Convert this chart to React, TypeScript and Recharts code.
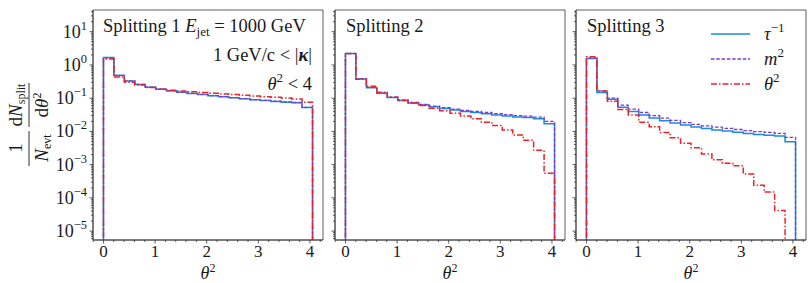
import React from 'react';
import { LineChart, Line, XAxis, YAxis, ReferenceArea } from 'recharts';

// bin edges of the theta^2 histograms (20 bins)
const binEdges = [
  0, 0.2025, 0.405, 0.6075, 0.81, 1.0125, 1.215, 1.4175, 1.62, 1.8225, 2.025,
  2.2275, 2.43, 2.6325, 2.835, 3.0375, 3.24, 3.4425, 3.645, 3.8475, 4.05,
];

// Splitting 1
const split1Tau = [1.68, 0.49, 0.33, 0.26, 0.215, 0.186, 0.166, 0.151, 0.138, 0.129, 0.118, 0.11, 0.103, 0.096, 0.09, 0.085, 0.08, 0.076, 0.073, 0.052];
const split1Mass = [1.64, 0.48, 0.33, 0.26, 0.215, 0.187, 0.167, 0.152, 0.139, 0.13, 0.119, 0.111, 0.104, 0.097, 0.091, 0.086, 0.081, 0.077, 0.074, 0.053];
const split1Theta = [1.5, 0.43, 0.3, 0.247, 0.21, 0.186, 0.174, 0.163, 0.155, 0.148, 0.141, 0.134, 0.128, 0.122, 0.116, 0.111, 0.106, 0.101, 0.095, 0.076];

// Splitting 2
const split2Tau = [2.2, 0.38, 0.205, 0.14, 0.105, 0.085, 0.071, 0.062, 0.055, 0.049, 0.044, 0.04, 0.037, 0.034, 0.031, 0.029, 0.027, 0.026, 0.024, 0.017];
const split2Mass = [2.2, 0.39, 0.21, 0.145, 0.108, 0.088, 0.074, 0.065, 0.058, 0.052, 0.047, 0.043, 0.04, 0.037, 0.034, 0.032, 0.03, 0.029, 0.027, 0.02];
const split2Theta = [2.2, 0.37, 0.23, 0.15, 0.107, 0.085, 0.072, 0.06, 0.05, 0.042, 0.035, 0.029, 0.024, 0.019, 0.015, 0.011, 0.0078, 0.0054, 0.0027, 0.00055];

// Splitting 3
const split3Tau = [1.57, 0.148, 0.093, 0.053, 0.04, 0.031, 0.0255, 0.021, 0.018, 0.0155, 0.0135, 0.0122, 0.0111, 0.0102, 0.0094, 0.0087, 0.0081, 0.0077, 0.0073, 0.0049];
const split3Mass = [1.6, 0.165, 0.1, 0.062, 0.047, 0.037, 0.03, 0.025, 0.0215, 0.0185, 0.0162, 0.0147, 0.0134, 0.0124, 0.0114, 0.0106, 0.0099, 0.0093, 0.0087, 0.0066];
const split3Theta = [1.77, 0.165, 0.081, 0.046, 0.031, 0.019, 0.0138, 0.0093, 0.0064, 0.0044, 0.0032, 0.0021, 0.0014, 0.0011, 0.00092, 0.00052, 0.00024, 0.00015, 0.000042, 0];

const xTicks = [0, 1, 2, 3, 4];
const xMinorTicks = [-0.2, 0.2, 0.4, 0.6, 0.8, 1.2, 1.4, 1.6, 1.8, 2.2, 2.4, 2.6, 2.8, 3.2, 3.4, 3.6, 3.8, 4.2];
const yTicks = [1e-5, 1e-4, 1e-3, 1e-2, 1e-1, 1, 10];
const yTickExponents = ['−5', '−4', '−3', '−2', '−1', '0', '1'];
const yMinorMultipliers = [2, 3, 4, 5, 6, 7, 8, 9];
const yDecades = [1e-6, 1e-5, 1e-4, 1e-3, 1e-2, 1e-1, 1, 10];

const X_DOMAIN: [number, number] = [-0.2025, 4.2525];
const Y_DOMAIN: [number, number] = [5.4e-6, 45];
const FLOOR = 1e-9;

const yMinorTicks = yDecades
  .flatMap((d) => yMinorMultipliers.map((m) => d * m))
  .filter((v) => v > Y_DOMAIN[0] && v < Y_DOMAIN[1]);
const yAllTicks = [...yMinorTicks, ...yTicks].sort((a, b) => a - b);
const xAllTicks = [...xMinorTicks, ...xTicks].sort((a, b) => a - b);

const FONT = '"Liberation Serif", "DejaVu Serif", serif';
const FRAME = '#333333';
const INK = '#1a1a1a';
const COLORS = { tau: '#1e88e5', mass: '#7a3fc9', theta: '#ec2228' };

// step outline: drop from the floor at the first edge, bin tops, drop at the last edge
function toSteps(values: number[]) {
  const pts = [{ x: binEdges[0], y: FLOOR }];
  values.forEach((v, i) => pts.push({ x: binEdges[i], y: v > 0 ? v : FLOOR }));
  const last = values[values.length - 1];
  pts.push({ x: binEdges[values.length], y: last > 0 ? last : FLOOR });
  pts.push({ x: binEdges[values.length], y: FLOOR });
  return pts;
}

function YTick(props: any) {
  const { x, y, payload, showLabel } = props;
  const idx = yTicks.indexOf(payload.value);
  const major = idx >= 0;
  const len = major ? 3.5 : 2;
  return (
    <g>
      <line x1={x - len} x2={x} y1={y} y2={y} stroke={FRAME} strokeWidth={0.8} />
      {major && showLabel && (
        <text x={x - 6} y={y + 6} textAnchor="end" fontFamily={FONT} fontSize={18} fill={INK}>
          10
          <tspan dy={-8} fontSize={12.5}>
            {yTickExponents[idx]}
          </tspan>
        </text>
      )}
    </g>
  );
}

function XTick(props: any) {
  const { x, y, payload } = props;
  const major = xTicks.includes(payload.value);
  const len = major ? 3.5 : 2;
  return (
    <g>
      <line x1={x} x2={x} y1={y} y2={y + len} stroke={FRAME} strokeWidth={0.8} />
      {major && (
        <text x={x} y={y + 17} textAnchor="middle" fontFamily={FONT} fontSize={17} fill={INK}>
          {payload.value}
        </text>
      )}
    </g>
  );
}

interface PanelProps {
  left: number;
  axisWidth: number;
  showLabels: boolean;
  tau: number[];
  mass: number[];
  theta: number[];
}

function Panel({ left, axisWidth, showLabels, tau, mass, theta }: PanelProps) {
  const plotWidth = 230;
  return (
    <div style={{ position: 'absolute', left, top: 0 }}>
      <LineChart
        width={axisWidth + plotWidth + 4}
        height={283}
        margin={{ top: 10, right: 4, bottom: 0, left: 0 }}
      >
        <XAxis
          dataKey="x"
          type="number"
          domain={X_DOMAIN}
          allowDataOverflow
          ticks={xAllTicks}
          interval={0}
          tickSize={0}
          tickMargin={0}
          tickLine={false}
          tick={<XTick />}
          height={43}
          axisLine={{ stroke: FRAME, strokeWidth: 0.8 }}
        />
        <YAxis
          type="number"
          scale="log"
          domain={Y_DOMAIN}
          allowDataOverflow
          ticks={yAllTicks}
          interval={0}
          tickSize={0}
          tickMargin={0}
          tickLine={false}
          tick={<YTick showLabel={showLabels} />}
          width={axisWidth}
          axisLine={{ stroke: FRAME, strokeWidth: 0.8 }}
        />
        <ReferenceArea
          x1={X_DOMAIN[0]}
          x2={X_DOMAIN[1]}
          y1={Y_DOMAIN[0]}
          y2={Y_DOMAIN[1]}
          fill="none"
          stroke={FRAME}
          strokeWidth={0.8}
        />
        <Line
          data={toSteps(tau)}
          dataKey="y"
          type="stepAfter"
          stroke={COLORS.tau}
          strokeWidth={1.5}
          dot={false}
          isAnimationActive={false}
        />
        <Line
          data={toSteps(mass)}
          dataKey="y"
          type="stepAfter"
          stroke={COLORS.mass}
          strokeWidth={1.3}
          strokeDasharray="3.5 1.8"
          dot={false}
          isAnimationActive={false}
        />
        <Line
          data={toSteps(theta)}
          dataKey="y"
          type="stepAfter"
          stroke={COLORS.theta}
          strokeWidth={1.5}
          strokeDasharray="6 2 1.5 2"
          dot={false}
          isAnimationActive={false}
        />
      </LineChart>
    </div>
  );
}

function Annotations() {
  const t = { fontFamily: FONT, fontSize: 18.5, fill: INK };
  const legend = [
    { key: 'tau', y: 34, dash: undefined, label: <><tspan fontStyle="italic">τ</tspan><tspan dy={-8} fontSize={13}>−1</tspan></> },
    { key: 'mass', y: 59, dash: '3.5 1.8', label: <><tspan fontStyle="italic">m</tspan><tspan dy={-8} fontSize={13}>2</tspan></> },
    { key: 'theta', y: 84, dash: '6 2 1.5 2', label: <><tspan fontStyle="italic">θ</tspan><tspan dy={-8} fontSize={13}>2</tspan></> },
  ];
  return (
    <svg width={810} height={283} style={{ position: 'absolute', left: 0, top: 0, pointerEvents: 'none' }}>
      <text x={103} y={32} {...t}>
        Splitting 1 <tspan fontStyle="italic">E</tspan>
        <tspan dy={4} fontSize={13}>jet</tspan>
        <tspan dy={-4}> = 1000 GeV</tspan>
      </text>
      <text x={312} y={61} textAnchor="end" {...t}>
        1 GeV/c &lt; |<tspan fontWeight="bold" fontStyle="italic">κ</tspan>|
      </text>
      <text x={312} y={90} textAnchor="end" {...t}>
        <tspan fontStyle="italic">θ</tspan>
        <tspan dy={-8} fontSize={13}>2</tspan>
        <tspan dy={8}> &lt; 4</tspan>
      </text>
      <text x={346} y={32} {...t}>Splitting 2</text>
      <text x={587} y={32} {...t}>Splitting 3</text>

      {[208, 450, 691].map((cx) => (
        <text key={cx} x={cx} y={279} textAnchor="middle" {...t} fontSize={18}>
          <tspan fontStyle="italic">θ</tspan>
          <tspan dy={-7} fontSize={12}>2</tspan>
        </text>
      ))}

      {legend.map((l) => (
        <g key={l.key}>
          <line
            x1={711}
            x2={750}
            y1={l.y}
            y2={l.y}
            stroke={COLORS[l.key as keyof typeof COLORS]}
            strokeWidth={1.5}
            strokeDasharray={l.dash}
          />
          <text x={764} y={l.y + 6} {...t}>
            {l.label}
          </text>
        </g>
      ))}

      {/* y-axis label: 1/N_evt dN_split/dtheta^2 */}
      <g transform="translate(29,125) rotate(-90)" fontFamily={FONT} fontSize={19} fill={INK}>
        <line x1={-41} x2={-6} y1={0} y2={0} stroke={INK} strokeWidth={0.9} />
        <text x={-23} y={-7} textAnchor="middle">1</text>
        <text x={-23} y={19} textAnchor="middle">
          <tspan fontStyle="italic">N</tspan>
          <tspan dy={3} fontSize={12}>evt</tspan>
        </text>
        <line x1={-2} x2={42} y1={0} y2={0} stroke={INK} strokeWidth={0.9} />
        <text x={20} y={-7} textAnchor="middle">
          d<tspan fontStyle="italic">N</tspan>
          <tspan dy={3} fontSize={12}>split</tspan>
        </text>
        <text x={20} y={19} textAnchor="middle">
          d<tspan fontStyle="italic">θ</tspan>
          <tspan dy={-7} fontSize={12}>2</tspan>
        </text>
      </g>
    </svg>
  );
}

export default function App() {
  return (
    <div style={{ position: 'absolute', left: 0, top: 0, width: 810, height: 283, background: '#fff' }}>
      <Panel left={0} axisWidth={93} showLabels tau={split1Tau} mass={split1Mass} theta={split1Theta} />
      <Panel left={315} axisWidth={20} showLabels={false} tau={split2Tau} mass={split2Mass} theta={split2Theta} />
      <Panel left={556} axisWidth={20} showLabels={false} tau={split3Tau} mass={split3Mass} theta={split3Theta} />
      <Annotations />
    </div>
  );
}
